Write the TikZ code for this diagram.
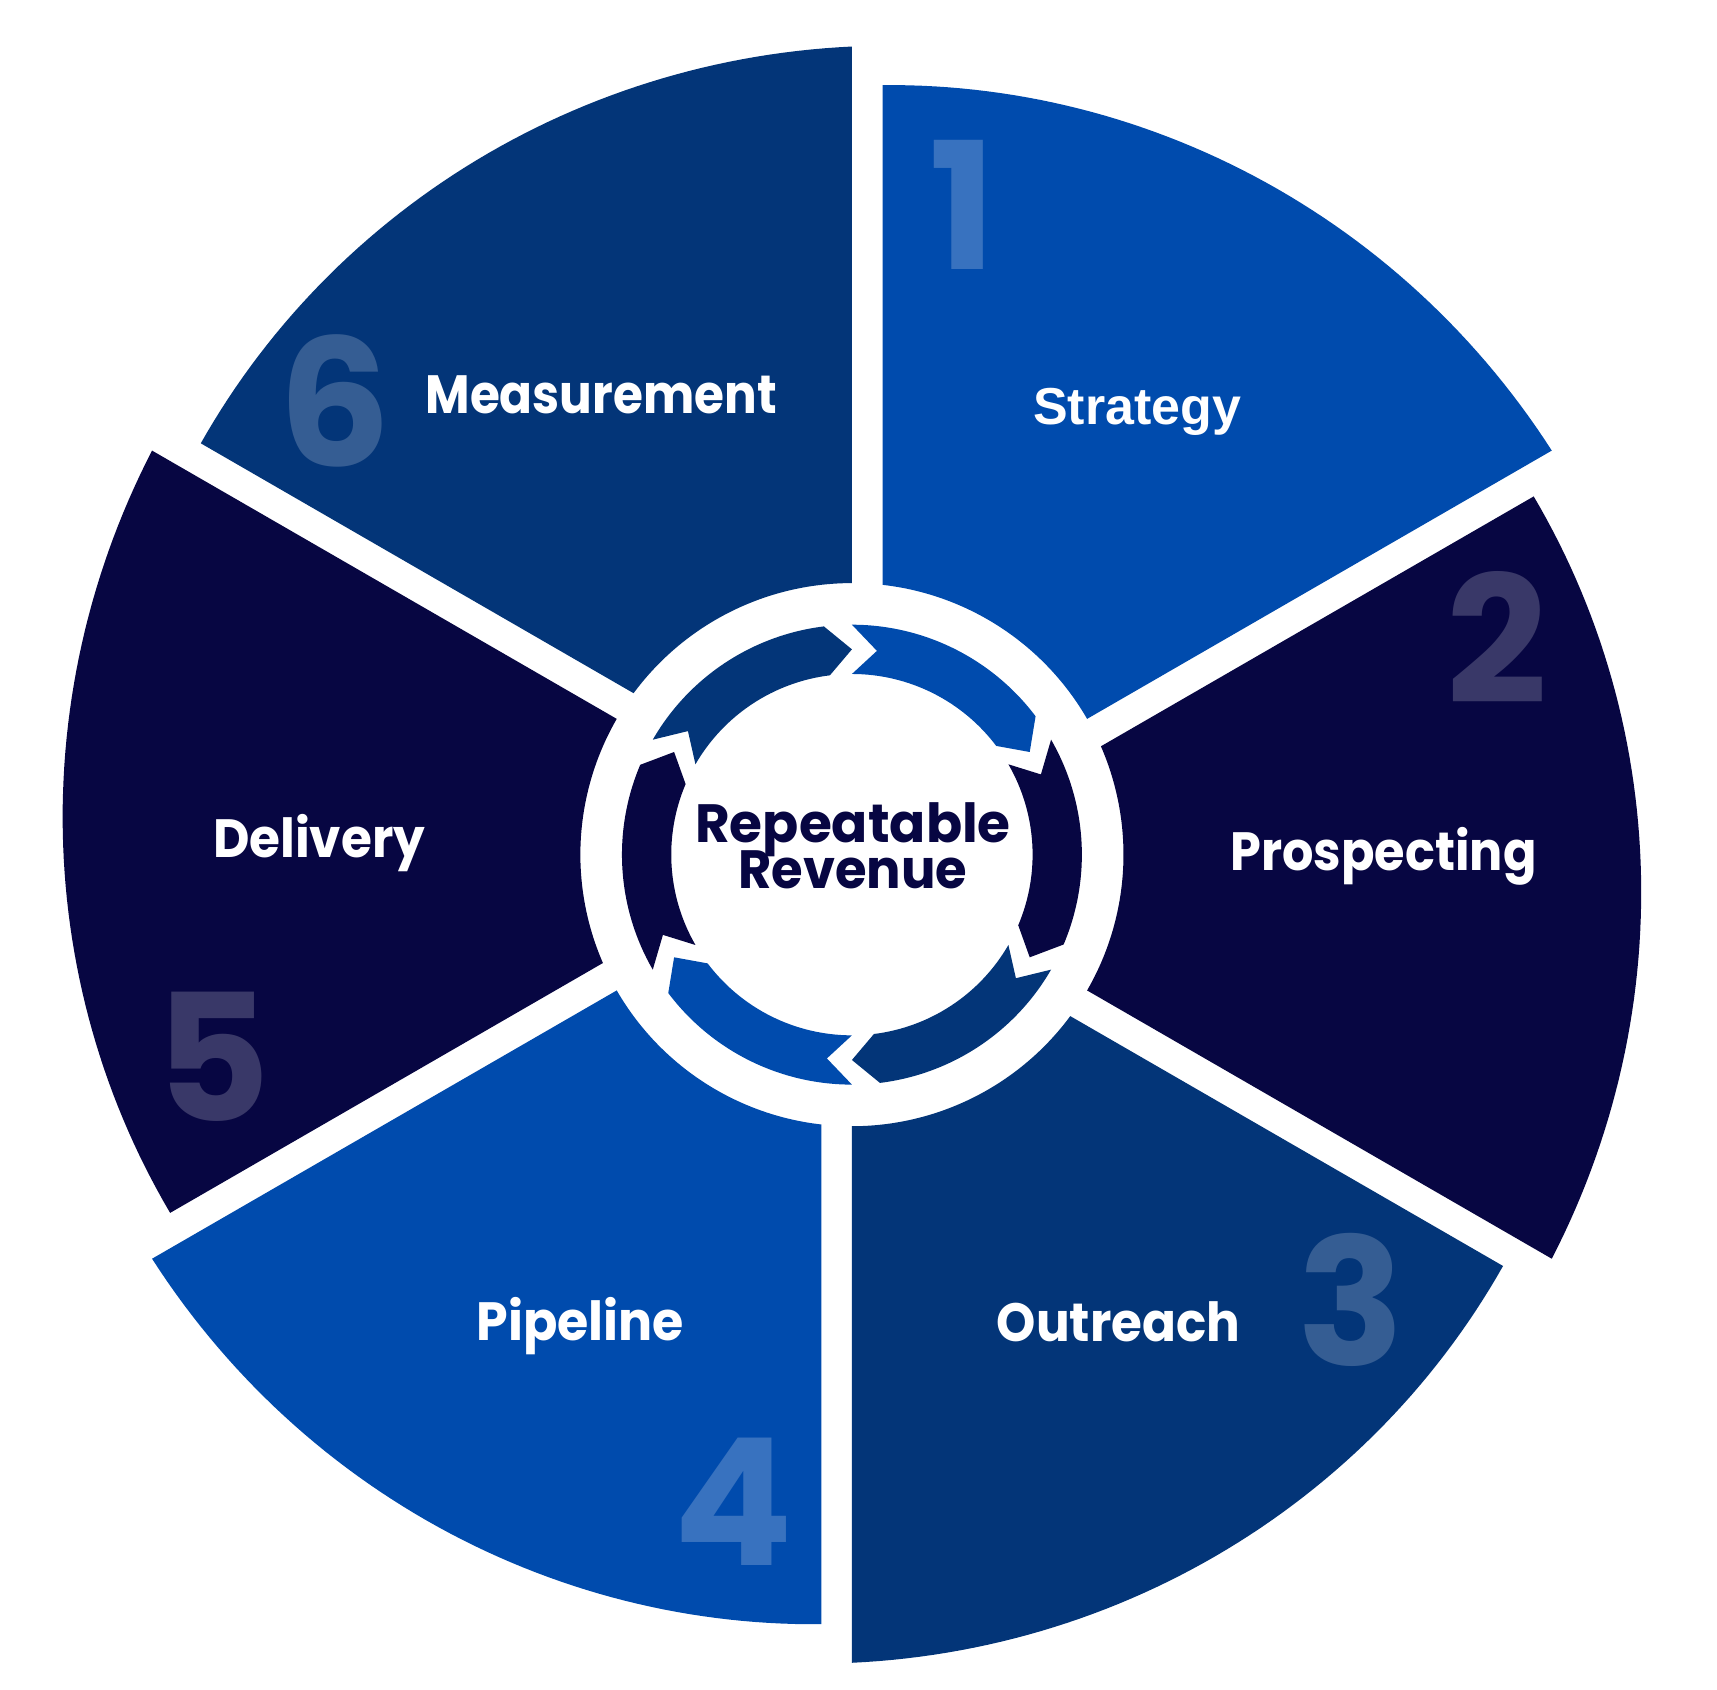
\documentclass[tikz,border=0pt]{standalone}
\usepackage{graphicx}
\usepackage{fontspec}
\newfontfamily\pop{Poppins}
\newfontfamily\arl{Liberation Sans}
\begin{document}
\begin{tikzpicture}[x=0.1mm,y=0.1mm]
\definecolor{segblue}{HTML}{004BAD}
\definecolor{segmid}{HTML}{033578}
\definecolor{segnavy}{HTML}{070642}
\tikzset{
  lbl/.style={text=white, font=\pop\bfseries\fontsize{14}{14}\selectfont, anchor=base, inner sep=0pt},
  lblarial/.style={text=white, font=\arl\bfseries\fontsize{13.5}{13.5}\selectfont, anchor=base, inner sep=0pt},
  num/.style={font=\pop\bfseries\fontsize{46}{46}\selectfont, inner sep=0pt, anchor=center},
  ctr/.style={text=segnavy, font=\pop\bfseries\fontsize{14}{14}\selectfont, anchor=base, inner sep=0pt}
}
\fill[white] (-778,-762.5) rectangle (790,780.5);
\path[use as bounding box] (-778,-762.5) rectangle (790,780.5);
\foreach \k/\col in {0/segblue,1/segnavy,2/segmid,3/segblue,4/segnavy,5/segmid}{
  \begin{scope}[rotate=-60*\k]
    \fill[\col] (28,246.41) -- (28,702.8) -- plot[domain=87.72:30,samples=60] (\x:{702+0.6*(90-\x)}) -- (30:248) arc[start angle=30,end angle=83.52,radius=248] -- cycle;
    \fill[\col] (90:210) arc[start angle=90,end angle=37,radius=210] -- (30:187.5) -- (37:165) arc[start angle=37,end angle=90,radius=165] -- (83:187.5) -- cycle;
  \end{scope}
}
\node[num,text=white!22!segblue] (n1) at (101,593) {1};
\node[num,text=white!20!segnavy] (n2) at (589.5,198) {2};
\node[num,text=white!20!segmid] (n3) at (456,-406.5) {3};
\node[num,text=white!22!segblue] (n4) at (-108,-591) {4};
\node[num,text=white!20!segnavy] (n5) at (-583,-184.5) {5};
\node[num,text=white!20!segmid] (n6) at (-472,414) {6};
\node[lblarial] (l1) at (260.5,392.5) {Strategy};
\node[lbl] (l2) at (485.5,-14.5) {\scalebox{0.916}[1]{Prospecting}};
\node[lbl] (l3) at (243.5,-444.5) {\scalebox{0.928}[1]{Outreach}};
\node[lbl] (l4) at (-248,-443.5) {\scalebox{0.94}[1]{Pipeline}};
\node[lbl] (l5) at (-486.5,-2.5) {\scalebox{0.93}[1]{Delivery}};
\node[lbl] (l6) at (-229,402.5) {\scalebox{0.90}[1]{Measurement}};
\node[ctr,text depth=0pt] (c1) at (1,11) {\scalebox{0.99}[1]{Repeatable}};
\node[ctr] (c2) at (1,-31) {\scalebox{0.95}[1]{Revenue}};
\end{tikzpicture}
\end{document}
